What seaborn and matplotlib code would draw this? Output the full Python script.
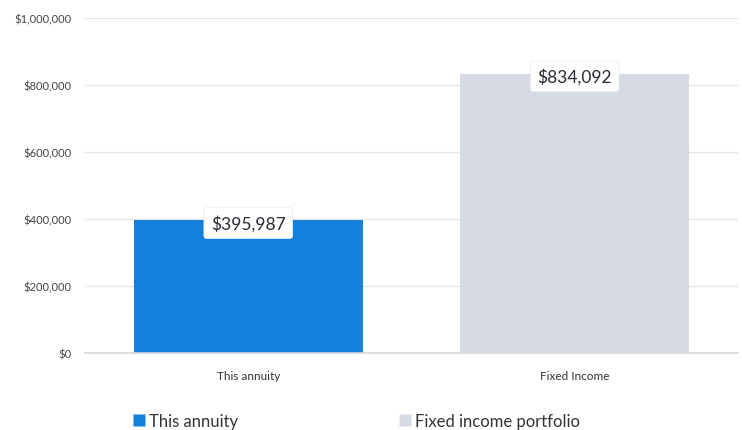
import matplotlib
matplotlib.use("Agg")
import matplotlib.pyplot as plt
import seaborn as sns
import pandas as pd
from matplotlib.ticker import FuncFormatter
from matplotlib.lines import Line2D

categories = ["This annuity", "Fixed Income"]
values = [395987, 834092]
legend_labels = ["This annuity", "Fixed income portfolio"]
colors = ["#1380de", "#d5dae5"]

df = pd.DataFrame({"category": categories, "value": values})

sns.set_style("white")
plt.rcParams["font.family"] = ["Lato", "DejaVu Sans"]

fig = plt.figure(figsize=(7.42, 4.31), dpi=100)
ax = fig.add_axes([0.1146, 0.1787, 0.88, 0.7773])

sns.barplot(data=df, x="category", y="value", hue="category", palette=colors,
            width=0.7, saturation=1, legend=False, ax=ax, zorder=2)
for p in ax.patches:
    p.set_edgecolor("none")

ax.set_ylim(0, 1000000)
ax.set_xlim(-0.5, 1.5)
ax.set_yticks(range(0, 1000001, 200000))
ax.yaxis.set_major_formatter(FuncFormatter(lambda v, _: f"${v:,.0f}"))
ax.grid(axis="y", color="#e6e6e6", linewidth=1, zorder=0)
ax.set_xlabel("")
ax.set_ylabel("")

for s in ["top", "right", "left"]:
    ax.spines[s].set_visible(False)
ax.spines["bottom"].set_color("#d8d8d8")
ax.spines["bottom"].set_linewidth(1.2)

ax.tick_params(axis="y", length=0, pad=10, labelsize=8, labelcolor="#444444")
ax.tick_params(axis="x", which="major", length=0, pad=12, labelsize=8.5, labelcolor="#333333")
ax.set_xticks([-0.5, 0.5, 1.5], minor=True)
ax.tick_params(axis="x", which="minor", length=5, color="#d8d8d8", width=1)

# value labels at the top of each bar
for i, v in enumerate(values):
    ax.text(i, v - 8000, f"${v:,.0f}", ha="center", va="center", fontsize=12.5,
            color="#2a2a33", zorder=5,
            bbox=dict(boxstyle="round,pad=0.4,rounding_size=0.15", fc="white",
                      ec="#eeeeee", lw=0.6))

handles = [Line2D([0], [0], marker="s", linestyle="none", markersize=9,
                  markerfacecolor=c, markeredgecolor="none") for c in colors]
fig.legend(handles, legend_labels, loc="center left", bbox_to_anchor=(0.158, 0.022),
           ncol=2, frameon=False, fontsize=12, handlelength=0.8, handletextpad=0.2,
           columnspacing=9.6, labelcolor="#333333")

fig.savefig("out.png", dpi=100)
